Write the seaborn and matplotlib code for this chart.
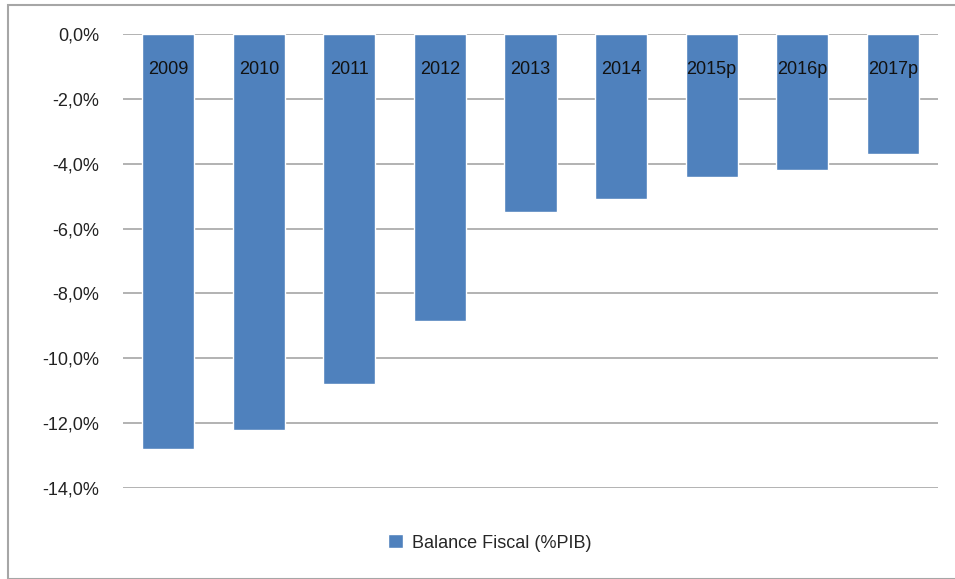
import matplotlib
matplotlib.use("Agg")
import matplotlib.pyplot as plt
import matplotlib.patches as mpatches
import seaborn as sns
import pandas as pd

# datos
years = ['2009', '2010', '2011', '2012', '2013', '2014', '2015p', '2016p', '2017p']
balance = [-12.8, -12.2, -10.8, -8.85, -5.5, -5.1, -4.4, -4.2, -3.7]
series_name = 'Balance Fiscal (%PIB)'
y_ticks = [0, -2, -4, -6, -8, -10, -12, -14]

sns.set_theme(style='white')
plt.rcParams['font.family'] = ['Liberation Sans', 'DejaVu Sans']

df = pd.DataFrame({'year': years, 'value': balance})

fig = plt.figure(figsize=(9.55, 5.79), dpi=100)
ax = fig.add_axes([123 / 955, 1 - 488 / 579, (938 - 123) / 955, (488 - 34) / 579])

sns.barplot(data=df, x='year', y='value', color='#4F81BD', saturation=1,
            width=0.575, label=series_name, ax=ax, zorder=3)

ax.set_ylim(-14, 0)
ax.set_xlim(-0.5, len(years) - 0.5)
ax.set_yticks(y_ticks)
ax.set_yticklabels([f'{v:.1f}%'.replace('.', ',') for v in y_ticks], fontsize=13, color='#222222')
ax.tick_params(axis='y', length=0, pad=17)
ax.set_xticks([])
ax.set_xlabel('')
ax.set_ylabel('')

ax.grid(axis='y', color='#a6a6a6', linewidth=1.2, zorder=0)
for s in ax.spines.values():
    s.set_visible(False)

# etiquetas de categoria junto al eje (como en Excel)
for i, yr in enumerate(years):
    ax.text(i, -1.1, yr, ha='center', va='center', fontsize=13, color='#111111', zorder=4)

handles, labels = ax.get_legend_handles_labels()
if ax.get_legend() is not None:
    ax.get_legend().remove()
fig.legend(handles, labels, loc='center', bbox_to_anchor=(0.513, 1 - 543 / 579),
           frameon=False, fontsize=13, handlelength=0.8, handleheight=0.8,
           handletextpad=0.5)

# borde exterior del grafico
fig.patches.append(mpatches.Rectangle((8 / 955, 0), 1, 1 - 5 / 579, transform=fig.transFigure,
                                      fill=False, edgecolor='#a6a6a6', linewidth=1.5))

fig.savefig('out.png', dpi=100)
